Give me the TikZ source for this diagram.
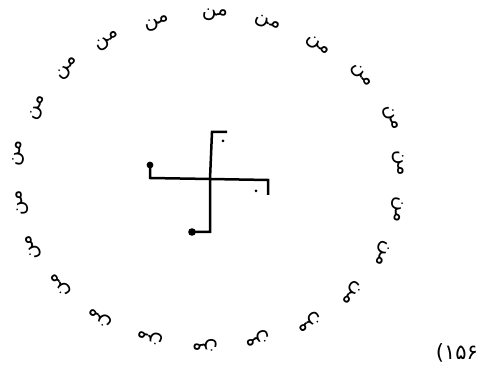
\documentclass[tikz,border=0pt]{standalone}
\usepackage{fontspec}
\newfontfamily\arabicfont[Script=Arabic]{DejaVu Sans}
\newfontfamily\digitfont{DejaVu Sans}
\TeXXeTstate=1
\usetikzlibrary{calc}
\tikzset{
  minglyph/.style={inner sep=0pt, text height=9pt, text depth=4pt, font=\arabicfont\fontsize{20}{20}\selectfont},
  armline/.style={line width=2.5pt, line cap=butt, line join=miter},
  dotmark/.style={fill, circle, inner sep=0pt, minimum size=3pt},
  pagelabel/.style={inner sep=0pt, font=\digitfont\fontsize{21}{21}\selectfont}
}

\begin{document}
\begin{tikzpicture}[x=1pt,y=1pt]
\useasboundingbox (0,0) rectangle (485,372);
\coordinate (ring) at (209,192);
\foreach \gx/\gy [count=\i] in {215/359,268/350,318/327,362/297,392/254,400/209,398/162,383/119,352/79,310/49,258/32,205/25,150/34,100/54,60/87,32/125,20/169,18/219,37/264,67/304,107/332,157/350} {
  \pgfmathsetmacro\ang{atan2(\gy-192,\gx-209)-90}
  \node[minglyph, rotate=\ang] (min\i) at (\gx,\gy) {\beginR من\endR};
}
\coordinate (hub) at (210,193);
\draw[armline] (227,240) -- (212,240) -- (hub) -- (210,140) -- (192,140);
\draw[armline] (150,208) -- (150,194) -- (hub) -- (268,192) -- (268,177);
\fill (150,207) circle (3.4pt);
\fill (192,140) circle (3.8pt);
\node[dotmark] (dotA) at (223,231) {};
\node[dotmark] (dotB) at (256,181) {};
\node[pagelabel] (pageno) at (457,19) {(۱۵۶};
\end{tikzpicture}
\end{document}
